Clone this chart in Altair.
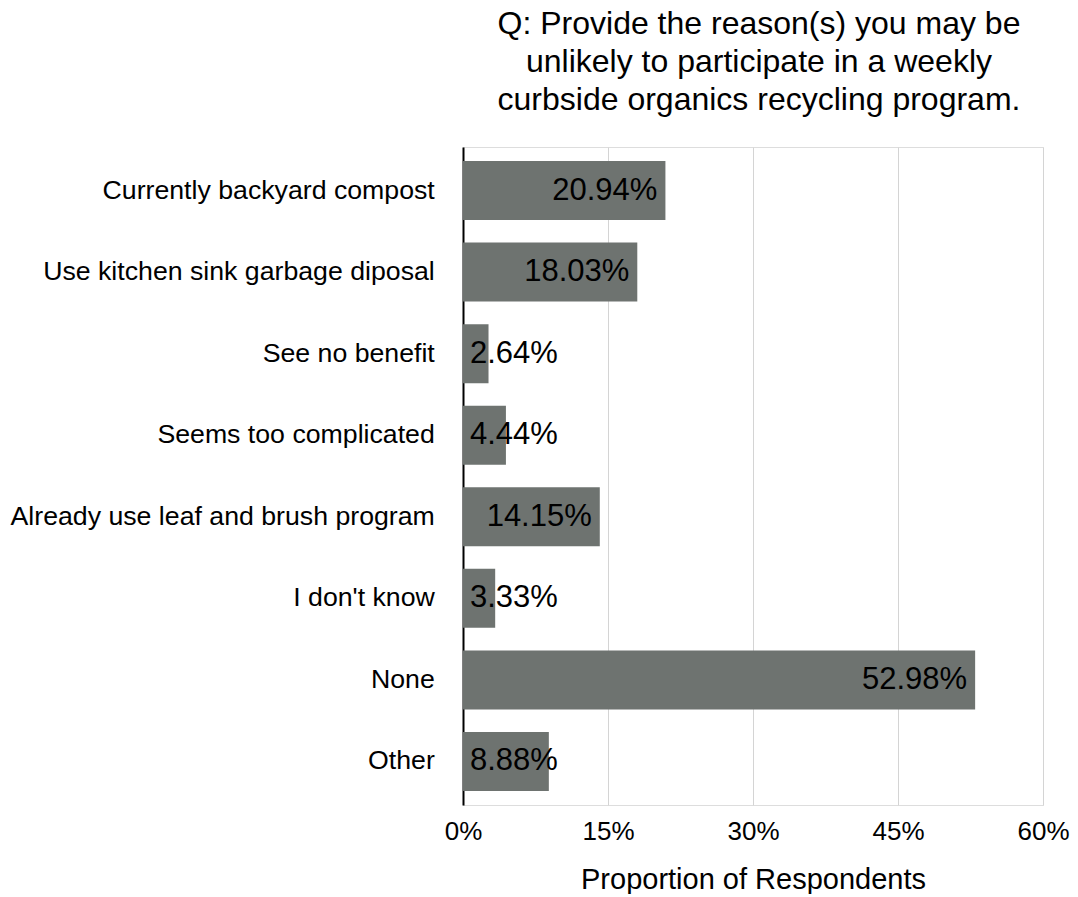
import altair as alt
import pandas as pd

categories = [
    "Currently backyard compost",
    "Use kitchen sink garbage diposal",
    "See no benefit",
    "Seems too complicated",
    "Already use leaf and brush program",
    "I don't know",
    "None",
    "Other",
]
values = [20.94, 18.03, 2.64, 4.44, 14.15, 3.33, 52.98, 8.88]
x_ticks = [0, 15, 30, 45, 60]

df = pd.DataFrame({"reason": categories, "pct": values})
df["label"] = [f"{v:.2f}%" for v in values]

FONT = "Liberation Sans"
BAR = "#6e7370"

y_enc = alt.Y(
    "reason:N",
    sort=categories,
    scale=alt.Scale(paddingInner=0.277, paddingOuter=0.172),
    axis=alt.Axis(
        title=None,
        labelFont=FONT,
        labelFontSize=26.7,
        labelColor="black",
        labelPadding=28.7,
        ticks=False,
        domain=True,
        domainColor="black",
        domainWidth=2,
        grid=False,
        labelLimit=600,
    ),
)

x_enc = alt.X(
    "pct:Q",
    scale=alt.Scale(domain=[0, 60], nice=False),
    axis=alt.Axis(
        values=x_ticks,
        labelExpr="datum.value + '%'",
        labelFlush=False,
        title="Proportion of Respondents",
        titleFont=FONT,
        titleFontSize=29,
        titleFontWeight="normal",
        titleColor="black",
        titlePadding=21,
        labelFont=FONT,
        labelFontSize=26,
        labelColor="black",
        labelPadding=13,
        ticks=False,
        domain=False,
        grid=True,
        gridColor="#d4d4d4",
        gridWidth=1,
    ),
)

bars = alt.Chart(df).mark_bar(color=BAR).encode(y=y_enc, x=x_enc)

big = (
    alt.Chart(df)
    .transform_filter("datum.pct >= 10")
    .mark_text(align="right", baseline="middle", dx=-8, font=FONT, fontSize=31, color="black")
    .encode(y=alt.Y("reason:N", sort=categories), x=alt.X("pct:Q"), text="label:N")
)

small = (
    alt.Chart(df)
    .transform_filter("datum.pct < 10")
    .mark_text(align="left", baseline="middle", dx=7, font=FONT, fontSize=31, color="black")
    .encode(y=alt.Y("reason:N", sort=categories), x=alt.datum(0), text="label:N")
)

chart = (
    alt.layer(bars, big, small)
    .properties(
        width=580,
        height=658,
        title=alt.TitleParams(
            text=[
                "Q: Provide the reason(s) you may be",
                "unlikely to participate in a weekly",
                "curbside organics recycling program.",
            ],
            font=FONT,
            fontSize=32,
            fontWeight="normal",
            color="black",
            lineHeight=38,
            anchor="middle",
            offset=30,
            dx=6,
        ),
        padding={"left": 2, "top": 0, "right": 0, "bottom": 0},
    )
    .configure_view(strokeWidth=0)
    .configure(background="white")
)

chart.save("out.html", embed_options={"renderer": "svg", "actions": False})
